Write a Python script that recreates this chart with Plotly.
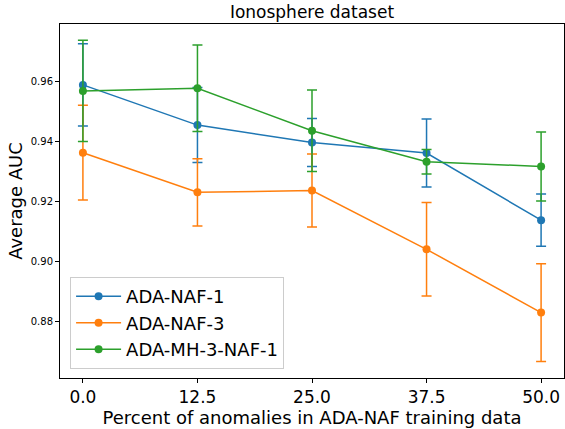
import plotly.graph_objects as go

x_vals = [0, 12.5, 25, 37.5, 50]
x_ticktext = ["0.0", "12.5", "25.0", "37.5", "50.0"]
y_tickvals = [0.88, 0.90, 0.92, 0.94, 0.96]

naf1 = [0.9590, 0.9456, 0.9398, 0.9363, 0.9139]
naf1_err = [0.0137, 0.0125, 0.0080, 0.0113, 0.0087]
naf3 = [0.9364, 0.9232, 0.9238, 0.9042, 0.8831]
naf3_err = [0.0158, 0.0112, 0.0122, 0.0156, 0.0163]
mh = [0.9570, 0.9579, 0.9437, 0.9334, 0.9318]
mh_err = [0.0169, 0.0144, 0.0136, 0.0041, 0.0115]

series = [
    ("ADA-NAF-1", naf1, naf1_err, "#1f77b4"),
    ("ADA-NAF-3", naf3, naf3_err, "#ff7f0e"),
    ("ADA-MH-3-NAF-1", mh, mh_err, "#2ca02c"),
]

font = "DejaVu Sans"
fig = go.Figure()
for name, y, e, c in series:
    fig.add_trace(go.Scatter(
        x=x_vals, y=y, name=name, mode="lines+markers",
        line=dict(color=c, width=1.5),
        marker=dict(color=c, size=8),
        error_y=dict(type="data", array=e, visible=True, color=c,
                     thickness=1.5, width=5),
    ))

fig.update_layout(
    width=565, height=429,
    margin=dict(l=60, r=1, t=24, b=51),
    paper_bgcolor="white", plot_bgcolor="white",
    font=dict(family=font, color="black"),
    title=dict(text="Ionosphere dataset", x=0.5, xref="paper", xanchor="center",
               y=0.972, yref="container", yanchor="middle",
               font=dict(size=17, family=font, color="black")),
    showlegend=True,
    legend=dict(x=0.02, y=0.025, xanchor="left", yanchor="bottom",
                bgcolor="rgba(255,255,255,0.8)", bordercolor="#cccccc",
                borderwidth=1, font=dict(size=18, family=font, color="black"),
                itemwidth=45, tracegroupgap=0),
)
fig.update_xaxes(
    range=[-2.5, 52.5], tickvals=x_vals, ticktext=x_ticktext,
    showgrid=False, zeroline=False, showline=True, linecolor="black",
    linewidth=1, mirror=True, ticks="outside", ticklen=4, tickcolor="black",
    tickfont=dict(size=17, family=font, color="black"),
    title=dict(text="Percent of anomalies in ADA-NAF training data",
               font=dict(size=18, family=font, color="black"), standoff=2),
)
fig.update_yaxes(
    range=[0.8613, 0.9793], tickvals=y_tickvals, tickformat=".2f",
    showgrid=False, zeroline=False, showline=True, linecolor="black",
    linewidth=1, mirror=True, ticks="outside", ticklen=4, tickcolor="black",
    tickfont=dict(size=10, family=font, color="black"),
    title=dict(text="Average AUC", font=dict(size=18, family=font, color="black"),
               standoff=3),
)
fig.write_html("out.html")
